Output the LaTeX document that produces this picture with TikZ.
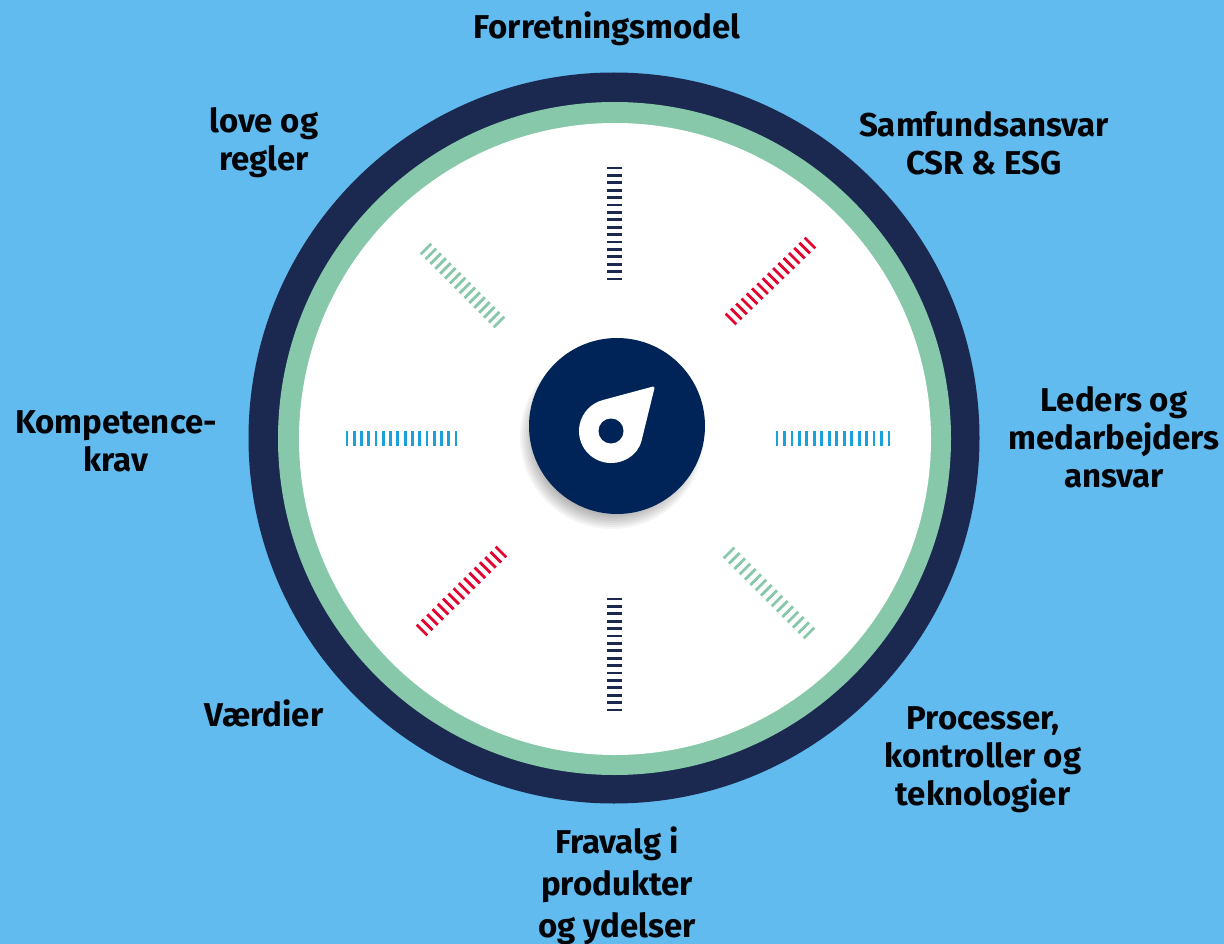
\documentclass[tikz,border=0pt]{standalone}
\usepackage{fontspec}
\setmainfont{Fira Sans}
\definecolor{skyback}{HTML}{62BBEE}
\definecolor{ringnavy}{HTML}{1B284F}
\definecolor{ringgreen}{HTML}{86C8A9}
\definecolor{hubnavy}{HTML}{002457}
\definecolor{tickred}{HTML}{E4032E}
\definecolor{tickblue}{HTML}{1AA0DB}
\tikzstyle{lab} = [align=center,font=\fontsize{33}{38}\selectfont\bfseries,text=black!90!ringnavy,inner sep=0pt]
\newcommand{\tickrow}[4]{%
	\foreach \t in {0,...,15}
	\draw[tickline,#1] ($(#2)!\t/15!(#3)$)+(#4:7.5) -- +(#4+180:7.5);
}
\usetikzlibrary{calc}
\begin{document}
\begin{tikzpicture}
		[
		x=1pt,y=-1pt,
		ring/.style={circle,inner sep=0pt},
		tickline/.style={line width=2.8pt}
		]
		\fill[skyback] (0,0) rectangle (1224,944);
		\useasboundingbox (0,0) rectangle (1224,944);
		\node[ring,fill=ringnavy,minimum size=731pt](outer) at (614,438) {};
		\node[ring,fill=ringgreen,minimum size=673pt](middle) at (614.5,438.5) {};
		\node[ring,fill=white,minimum size=632pt](inner) at (615,439) {};
		% tick rows
		\tickrow{ringnavy}{614.5,168}{614.5,279}{0}
		\tickrow{ringnavy}{614.5,599}{614.5,710}{0}
		\tickrow{tickblue}{777,438.5}{889,438.5}{90}
		\tickrow{tickblue}{347,438.5}{456,438.5}{90}
		\tickrow{tickred}{731,319}{810,243}{45}
		\tickrow{tickred}{422,630}{501,552}{45}
		\tickrow{ringgreen}{426,249}{499,322}{-45}
		\tickrow{ringgreen}{729,553}{809,633}{-45}
		% hub with soft shadow
		\foreach \r in {92,90,...,70}
		\fill[black,opacity=0.04] (612,437) circle (\r);
		\node[ring,fill=hubnavy,minimum size=176pt](hub) at (617,426) {};
		\fill[white,rounded corners=2.5pt] (603,400) -- (655,386) -- (642.3,437.6) arc[start angle=11.9,end angle=255.5,radius=32];
		\node[ring,fill=hubnavy,minimum size=25pt](pinhole) at (611,431) {};
		% labels
		\node[lab](model) at (607,29) {Forretningsmodel};
		\node[lab](csr) at (984,143) {Samfundsansvar\\CSR \& ESG};
		\node[lab](leders) at (1114,437) {Leders og\\medarbejders\\ansvar};
		\node[lab](processer) at (983,760) {Processer,\\kontroller og\\teknologier};
		\node[lab,font=\fontsize{33}{42}\selectfont\bfseries](fravalg) at (617,886) {Fravalg i\\produkter\\og ydelser};
		\node[lab](vaerdier) at (264,713) {Værdier};
		\node[lab](kompetence) at (116,441) {Kompetence-\\krav};
		\node[lab](love) at (264,143) {love og\\regler};
		\end{tikzpicture}
\end{document}
